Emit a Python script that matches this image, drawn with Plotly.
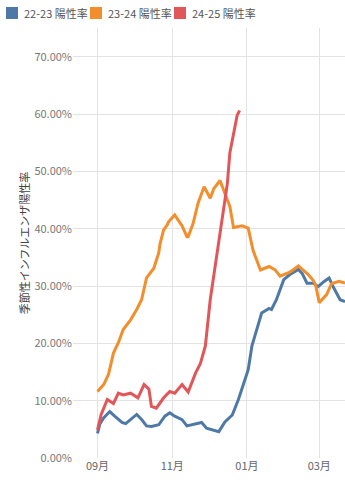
import plotly.graph_objects as go

# Season-aligned dates (all seasons plotted on the Sep-Mar axis of 22-23)
blue_dates = ["2022-09-01", "2022-09-03", "2022-09-06", "2022-09-11", "2022-09-15", "2022-09-21",
              "2022-09-24", "2022-09-28", "2022-10-03", "2022-10-07", "2022-10-11", "2022-10-15",
              "2022-10-21", "2022-10-26", "2022-10-30", "2022-11-03", "2022-11-09", "2022-11-13",
              "2022-11-18", "2022-11-25", "2022-11-29", "2022-12-05", "2022-12-09", "2022-12-14",
              "2022-12-20", "2022-12-25", "2022-12-29", "2023-01-02", "2023-01-05", "2023-01-08",
              "2023-01-13", "2023-01-19", "2023-01-21", "2023-01-25", "2023-01-31", "2023-02-05",
              "2023-02-12", "2023-02-15", "2023-02-19", "2023-02-24", "2023-02-28", "2023-03-05",
              "2023-03-09", "2023-03-13", "2023-03-18", "2023-03-22"]
blue_vals = [4.3, 6.0, 7.0, 8.1, 7.3, 6.2,
             6.0, 6.7, 7.6, 6.7, 5.6, 5.5,
             5.8, 7.3, 7.9, 7.3, 6.7, 5.6,
             5.8, 6.2, 5.2, 4.9, 4.6, 6.3,
             7.5, 10.2, 13.0, 15.4, 19.5, 21.8,
             25.3, 26.1, 25.9, 27.6, 31.1, 32.0,
             32.9, 32.2, 30.5, 30.5, 29.9, 30.8,
             31.4, 29.6, 27.6, 27.3]

orange_dates = ["2022-09-01", "2022-09-06", "2022-09-10", "2022-09-13", "2022-09-14", "2022-09-18",
                "2022-09-22", "2022-09-28", "2022-10-03", "2022-10-07", "2022-10-11", "2022-10-17",
                "2022-10-21", "2022-10-22", "2022-10-25", "2022-10-28", "2022-10-29", "2022-11-03",
                "2022-11-09", "2022-11-13", "2022-11-14", "2022-11-18", "2022-11-22", "2022-11-27",
                "2022-12-02", "2022-12-05", "2022-12-10", "2022-12-16", "2022-12-18", "2022-12-21",
                "2022-12-28", "2023-01-02", "2023-01-06", "2023-01-12", "2023-01-19", "2023-01-24",
                "2023-01-28", "2023-02-05", "2023-02-12", "2023-02-20", "2023-02-24", "2023-02-26",
                "2023-03-01", "2023-03-07", "2023-03-11", "2023-03-17", "2023-03-22"]
orange_vals = [11.6, 12.8, 14.6, 17.1, 18.3, 20.1,
               22.4, 24.1, 25.9, 27.6, 31.4, 33.1,
               35.8, 37.3, 39.8, 40.7, 41.2, 42.4,
               40.5, 38.6, 38.6, 40.9, 44.4, 47.3,
               45.3, 47.0, 48.4, 45.0, 43.9, 40.2,
               40.5, 40.1, 36.2, 32.8, 33.4, 32.8,
               31.7, 32.4, 33.5, 32.0, 31.0, 30.2,
               27.1, 28.5, 30.4, 30.8, 30.5]

red_dates = ["2022-09-01", "2022-09-04", "2022-09-09", "2022-09-14", "2022-09-18", "2022-09-22",
             "2022-09-28", "2022-10-02", "2022-10-04", "2022-10-09", "2022-10-13", "2022-10-15",
             "2022-10-19", "2022-10-25", "2022-10-30", "2022-11-03", "2022-11-09", "2022-11-14",
             "2022-11-20", "2022-11-24", "2022-11-28", "2022-12-02", "2022-12-06", "2022-12-09",
             "2022-12-12", "2022-12-16", "2022-12-18", "2022-12-21", "2022-12-24", "2022-12-26"]
red_vals = [4.9, 7.6, 10.2, 9.5, 11.3, 11.0,
            11.3, 10.7, 10.5, 12.8, 12.0, 9.0,
            8.7, 10.5, 11.6, 11.3, 12.8, 11.5,
            14.8, 16.5, 19.5, 27.6, 33.4, 37.0,
            42.1, 47.9, 53.2, 56.6, 59.8, 60.6]

series_names = ["22-23 陽性率", "23-24 陽性率", "24-25 陽性率"]
series_colors = ["#4e79a7", "#f28e2b", "#e15759"]
y_title = "季節性インフルエンザ陽性率"

FONT = "Noto Sans CJK JP, Noto Sans, sans-serif"
M_L, M_T = 73, 28

fig = go.Figure()
for dates, vals, name, color in zip([blue_dates, orange_dates, red_dates],
                                    [blue_vals, orange_vals, red_vals],
                                    series_names, series_colors):
    fig.add_trace(go.Scatter(x=dates, y=[v / 100 for v in vals], mode="lines",
                             line=dict(color=color, width=3), name=name,
                             showlegend=False))

# Legend drawn as square swatches + labels above the plot (pixel-positioned)
shapes, annotations = [], []
for i, (name, color) in enumerate(zip(series_names, series_colors)):
    left = 6 + 84 * i
    shapes.append(dict(type="rect", xref="paper", yref="paper",
                       xsizemode="pixel", ysizemode="pixel", xanchor=0, yanchor=1,
                       x0=left - M_L, x1=left + 12 - M_L, y0=M_T - 7, y1=M_T - 19,
                       fillcolor=color, line=dict(width=0)))
    annotations.append(dict(xref="paper", yref="paper", x=0, y=1, xanchor="left",
                            yanchor="middle", xshift=left + 16 - M_L, yshift=M_T - 13,
                            text=name, showarrow=False,
                            font=dict(size=11, color="#555", family=FONT)))

fig.update_layout(
    width=345, height=480,
    margin=dict(l=M_L, r=0, t=M_T, b=22, autoexpand=False),
    paper_bgcolor="white", plot_bgcolor="white",
    font=dict(family=FONT, size=11, color="#666"),
    showlegend=False,
    shapes=shapes, annotations=annotations,
    xaxis=dict(type="date", range=["2022-08-12", "2023-03-22"],
               dtick="M2", tick0="2022-09-01", tickformat="%m月",
               showgrid=True, gridcolor="#e3e3e3", gridwidth=1,
               showline=False, zeroline=False, ticks="",
               tickfont=dict(size=11, color="#666")),
    yaxis=dict(range=[0, 0.75], dtick=0.1, tickformat=".2%",
               showgrid=True, gridcolor="#e3e3e3", gridwidth=1,
               zeroline=False, showline=False, ticks="",
               tickfont=dict(size=11, color="#777"),
               title=dict(text=y_title, font=dict(size=11, color="#444"), standoff=2)),
)

fig.write_html("out.html")
